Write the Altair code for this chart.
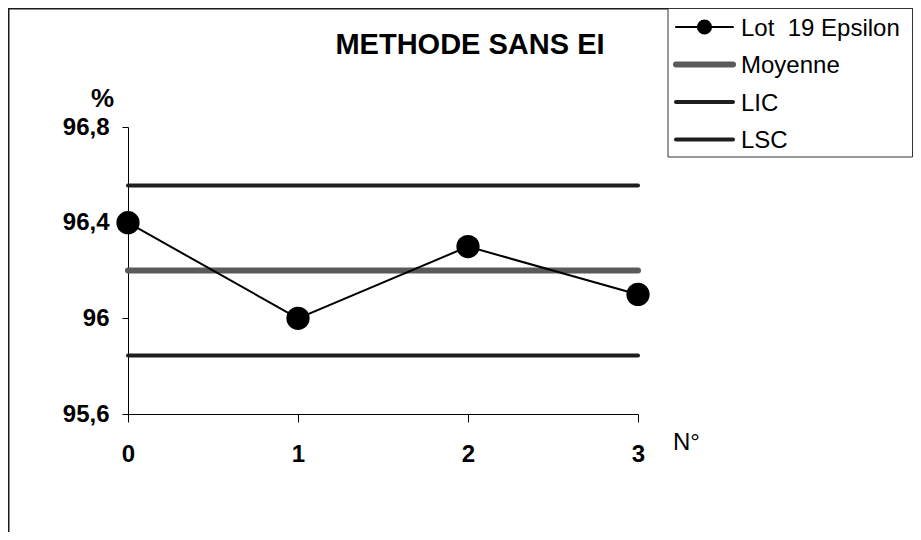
import altair as alt
import pandas as pd

# ---- data ----
lot_x = [0, 1, 2, 3]
lot_y = [96.4, 96.0, 96.3, 96.1]
moyenne = 96.2
lic = 95.845
lsc = 96.555
x_ends = [0, 3]
y_ticks = [95.6, 96.0, 96.4, 96.8]
x_ticks = [0, 1, 2, 3]
legend_labels = ["Lot\u00a0\u00a019 Epsilon", "Moyenne", "LIC", "LSC"]
title_text = "METHODE SANS EI"
y_title = "%"
x_title = "N°"

FONT = "Liberation Sans"
W, H = 510, 287
PAD = {"left": 120, "top": 119, "right": 275, "bottom": 118}

lot_df = pd.DataFrame({"n": lot_x, "v": lot_y})
ref_df = pd.DataFrame({
    "n": x_ends * 3,
    "v": [moyenne] * 2 + [lic] * 2 + [lsc] * 2,
    "serie": ["Moyenne"] * 2 + ["LIC"] * 2 + ["LSC"] * 2,
})
one = pd.DataFrame({"a": [0]})

x_enc = alt.X(
    "n:Q",
    scale=alt.Scale(domain=[0, 3], nice=False, zero=False),
    axis=alt.Axis(
        values=x_ticks, format="d", title=x_title, grid=False,
        tickSize=8, labelPadding=20, labelFlush=False, labelOverlap=False,
        labelFont=FONT, labelFontSize=24, labelFontWeight="bold", labelColor="black",
        titleFont=FONT, titleFontSize=24, titleFontWeight="normal", titleColor="black",
        titleAngle=0, titleAlign="center", titleBaseline="alphabetic",
        titleX=558, titleY=35,
        domainColor="black", tickColor="black", domainWidth=1, tickWidth=1,
    ),
)
y_enc = alt.Y(
    "v:Q",
    scale=alt.Scale(domain=[95.6, 96.8], nice=False, zero=False),
    axis=alt.Axis(
        values=y_ticks, labelExpr="replace(toString(datum.value), '.', ',')",
        title=y_title, grid=False, tickSize=6, labelPadding=13, labelOverlap=False,
        labelFont=FONT, labelFontSize=24, labelFontWeight="bold", labelColor="black",
        titleFont=FONT, titleFontSize=26, titleFontWeight="bold", titleColor="black",
        titleAngle=0, titleAlign="center", titleBaseline="alphabetic",
        titleX=-26, titleY=-21,
        domainColor="black", tickColor="black", domainWidth=1, tickWidth=1,
    ),
)

ref_base = alt.Chart(ref_df)
lic_lsc = ref_base.transform_filter(alt.datum.serie != "Moyenne").mark_line(
    color="#1e1e1e", strokeWidth=4, strokeCap="round"
).encode(x=x_enc, y=y_enc, detail="serie:N")
mean_line = ref_base.transform_filter(alt.datum.serie == "Moyenne").mark_line(
    color="#5a5a5a", strokeWidth=6, strokeCap="round"
).encode(x=x_enc, y=y_enc)

lot_line = alt.Chart(lot_df).mark_line(color="black", strokeWidth=2).encode(x=x_enc, y=y_enc)
lot_pts = alt.Chart(lot_df).mark_point(
    filled=True, shape="circle", size=540, color="black", opacity=1
).encode(x=x_enc, y=y_enc)

# frame (outer border)
frame_left = alt.Chart(one).mark_rule(color="#1a1a1a", strokeWidth=1.5).encode(
    x=alt.value(-119.25), y=alt.value(-119), y2=alt.value(H + 118)
)
frame_top = alt.Chart(one).mark_rule(color="#1a1a1a", strokeWidth=1.5).encode(
    x=alt.value(-120), x2=alt.value(W + 275), y=alt.value(-118.25)
)

title = alt.Chart(pd.DataFrame({"t": [title_text]})).mark_text(
    font=FONT, fontSize=29, fontWeight="bold", color="black",
    align="center", baseline="alphabetic"
).encode(text="t:N", x=alt.value(342), y=alt.value(-73))

# legend box
leg_box = alt.Chart(one).mark_rect(fill="white", stroke="#333333", strokeWidth=1).encode(
    x=alt.value(540), x2=alt.value(784.5), y=alt.value(-118.5), y2=alt.value(30)
)
leg_layers = [leg_box]
row0, step = -100, 37.5
sym_x0, sym_x1, txt_x = 548, 605, 613
styles = [
    ("black", 2),
    ("#5a5a5a", 6),
    ("#1e1e1e", 4),
    ("#1e1e1e", 4),
]
for i, lab in enumerate(legend_labels):
    yc = row0 + i * step
    col, sw = styles[i]
    leg_layers.append(
        alt.Chart(one).mark_rule(color=col, strokeWidth=sw, strokeCap="round").encode(
            x=alt.value(sym_x0), x2=alt.value(sym_x1), y=alt.value(yc)
        )
    )
    if i == 0:
        leg_layers.append(
            alt.Chart(one).mark_point(filled=True, shape="circle", size=230, color="black", opacity=1).encode(
                x=alt.value((sym_x0 + sym_x1) / 2), y=alt.value(yc)
            )
        )
    leg_layers.append(
        alt.Chart(pd.DataFrame({"t": [lab]})).mark_text(
            font=FONT, fontSize=24, color="black", align="left", baseline="alphabetic"
        ).encode(text="t:N", x=alt.value(txt_x), y=alt.value(yc + 8.5))
    )

chart = alt.layer(
    lic_lsc, mean_line, lot_line, lot_pts, frame_left, frame_top, title, *leg_layers
).properties(
    width=W, height=H, padding=PAD, autosize=alt.AutoSizeParams(type="none"),
    background="white",
).configure_view(stroke=None)

chart.save("out.html", embed_options={"renderer": "svg", "actions": False})
